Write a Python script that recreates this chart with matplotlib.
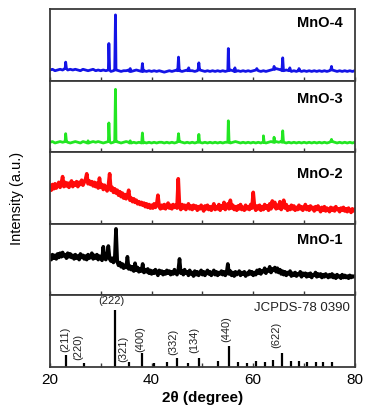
import numpy as np
import matplotlib
matplotlib.use('Agg')
import matplotlib.pyplot as plt
from matplotlib.ticker import MultipleLocator

plt.rcParams['font.family'] = ['Liberation Sans', 'DejaVu Sans']

# ---- data (intensities in % of panel height) ----
# MnO-4 and MnO-3: smooth background on a 0.5 deg grid + sharp reflections
grid_05 = np.arange(20.0, 80.01, 0.5)

mno4_base = [15, 16, 14, 15, 16, 15, 17, 15, 16, 15,
             16, 15, 14, 16, 15, 14, 15, 16, 14, 15,
             14, 15, 14, 15, 13, 14, 15, 14, 13, 14,
             14, 15, 13, 14, 15, 14, 13, 14, 13, 14,
             13, 14, 13, 14, 13, 12, 13, 14, 13, 14,
             15, 14, 13, 14, 15, 14, 14, 13, 14, 15,
             14, 13, 14, 13, 14, 13, 14, 13, 14, 13,
             14, 15, 14, 13, 14, 13, 14, 13, 14, 13,
             14, 15, 14, 13, 14, 13, 14, 15, 16, 17,
             16, 15, 14, 15, 14, 13, 14, 13, 14, 13,
             14, 13, 14, 13, 14, 13, 14, 13, 14, 13,
             14, 15, 14, 13, 14, 13, 14, 13, 14, 13,
             14]
mno4_peak_pos = [23.1, 31.6, 32.9, 35.8, 38.2, 45.3, 47.3, 49.3, 55.1, 56.4,
                 60.7, 64.1, 65.8, 67.2, 69.0, 75.4]
mno4_peak_h = [26, 52, 92, 17, 24, 33, 18, 25, 45, 18,
               17, 20, 32, 18, 17, 20]

mno3_base = [14, 15, 13, 14, 15, 14, 15, 14, 13, 14,
             15, 14, 13, 15, 14, 13, 14, 15, 14, 15,
             14, 13, 14, 15, 13, 14, 15, 14, 13, 14,
             15, 14, 13, 14, 13, 14, 13, 14, 13, 14,
             13, 14, 13, 14, 14, 13, 14, 13, 14, 13,
             14, 15, 14, 13, 14, 13, 14, 13, 14, 14,
             13, 14, 13, 14, 13, 14, 13, 14, 13, 14,
             14, 13, 14, 15, 14, 13, 14, 13, 14, 13,
             14, 13, 14, 13, 14, 13, 14, 15, 14, 15,
             14, 15, 14, 13, 14, 13, 14, 13, 14, 13,
             14, 13, 14, 13, 14, 13, 14, 13, 14, 13,
             14, 15, 14, 13, 14, 13, 14, 13, 14, 13,
             14]
mno3_peak_pos = [23.1, 27.5, 31.6, 32.9, 35.8, 38.2, 45.3, 49.3, 55.1, 62.0,
                 64.1, 65.8, 75.4]
mno3_peak_h = [26, 16, 41, 88, 16, 27, 26, 25, 44, 23,
               21, 30, 18]

# MnO-2 and MnO-1: noisy patterns on a 0.25 deg grid
grid_025 = np.arange(20.0, 80.001, 0.25)

mno2 = [52, 47, 55, 49, 56, 50, 54, 58, 51, 57, 66, 52, 58, 53, 57, 51,
        56, 60, 52, 57, 54, 59, 52, 58, 55, 61, 54, 58, 62, 70, 56, 60,
        55, 59, 53, 58, 52, 57, 50, 64, 51, 55, 48, 54, 50, 46, 53, 70,
        47, 51, 44, 49, 43, 47, 40, 45, 38, 43, 36, 41, 35, 39, 47, 33,
        36, 31, 35, 30, 33, 28, 31, 27, 30, 26, 29, 24, 28, 23, 27, 22,
        26, 22, 28, 23, 27, 40, 24, 21, 26, 22, 27, 21, 25, 29, 22, 26,
        21, 27, 23, 26, 22, 63, 24, 20, 27, 22, 26, 20, 24, 28, 21, 25,
        20, 26, 22, 25, 19, 24, 21, 26, 22, 18, 25, 21, 26, 20, 24, 19,
        23, 28, 20, 24, 21, 27, 19, 25, 22, 30, 20, 24, 28, 21, 33, 22,
        26, 20, 24, 19, 25, 21, 27, 20, 23, 19, 26, 21, 24, 20, 27, 22,
        44, 24, 19, 25, 21, 26, 19, 24, 20, 27, 22, 25, 19, 28, 21, 32,
        24, 30, 21, 26, 22, 31, 20, 25, 33, 22, 27, 19, 24, 20, 26, 21,
        25, 19, 23, 20, 26, 21, 24, 19, 22, 27, 20, 24, 19, 25, 21, 23,
        18, 24, 20, 25, 21, 17, 23, 19, 24, 18, 22, 20, 17, 23, 19, 22,
        18, 24, 20, 21, 17, 22, 19, 23, 18, 21, 17, 22, 19, 16, 21, 18,
        20]

mno1 = [55, 50, 57, 52, 56, 51, 58, 53, 59, 54, 60, 55, 57, 52, 59, 54,
        58, 53, 56, 51, 57, 52, 55, 50, 58, 53, 56, 51, 55, 50, 57, 52,
        54, 59, 51, 56, 52, 57, 50, 55, 53, 49, 68, 52, 50, 55, 69, 51,
        48, 52, 46, 50, 93, 47, 42, 46, 40, 44, 38, 42, 39, 54, 37, 41,
        36, 40, 34, 45, 35, 39, 33, 37, 34, 44, 32, 36, 33, 37, 31, 35,
        30, 34, 31, 36, 32, 28, 35, 31, 34, 29, 33, 30, 35, 31, 34, 29,
        33, 30, 36, 32, 29, 35, 51, 31, 34, 29, 36, 31, 33, 28, 35, 30,
        32, 27, 34, 29, 33, 28, 31, 35, 29, 33, 28, 32, 35, 30, 33, 28,
        31, 35, 29, 33, 28, 32, 30, 34, 29, 33, 28, 31, 44, 30, 34, 28,
        32, 27, 33, 29, 31, 34, 28, 32, 30, 33, 27, 31, 29, 34, 30, 33,
        28, 32, 29, 35, 31, 36, 30, 34, 33, 38, 31, 36, 34, 40, 32, 37,
        35, 39, 33, 38, 32, 36, 30, 34, 29, 33, 28, 32, 30, 34, 27, 31,
        28, 32, 27, 30, 29, 33, 26, 31, 28, 31, 26, 30, 27, 31, 25, 29,
        28, 32, 26, 30, 27, 30, 25, 29, 26, 30, 28, 25, 29, 26, 30, 25,
        28, 24, 29, 26, 27, 24, 29, 25, 28, 25, 27, 24, 28, 25, 27, 26,
        27]

# JCPDS-78 0390 reference pattern (relative intensity)
ref_pos = [23.1, 26.7, 32.9, 35.6, 38.2, 40.5, 43.0, 45.0, 47.2, 49.3,
           53.1, 55.2, 57.0, 58.8, 60.5, 62.3, 63.9, 65.7, 67.4, 69.0,
           70.6, 72.3, 73.7, 75.5]
ref_int = [21, 7, 100, 8, 24, 7, 8, 15, 7, 15,
           10, 37, 8, 7, 10, 8, 13, 24, 11, 10,
           8, 8, 9, 8]
hkl_labels = ['(211)', '(220)', '(321)', '(400)', '(332)', '(134)', '(440)', '(622)']
hkl_x = [23.0, 25.6, 34.4, 37.7, 44.3, 48.3, 54.6, 64.5]
hkl_y = [26, 12, 9, 26, 21, 24, 43, 33]


def add_spikes(gx, base, pos, h, hw=0.15):
    base = np.asarray(base, float)
    xs, ys = list(gx), list(base)
    for p, t in zip(pos, h):
        b = base[np.argmin(np.abs(gx - p))]
        xs += [p - hw, p, p + hw]
        ys += [b, t, b]
    order = np.argsort(xs, kind='stable')
    return np.asarray(xs)[order], np.asarray(ys)[order]


fig = plt.figure(figsize=(3.67, 4.17), dpi=100)
gs = fig.add_gridspec(5, 1, left=0.136, right=0.967, bottom=0.12, top=0.978, hspace=0)
axes = [fig.add_subplot(gs[i]) for i in range(5)]

x4, y4 = add_spikes(grid_05, mno4_base, mno4_peak_pos, mno4_peak_h)
x3, y3 = add_spikes(grid_05, mno3_base, mno3_peak_pos, mno3_peak_h)

series = [
    (x4, y4, '#1414e6', 'MnO-4', 0.81, 2.0),
    (x3, y3, '#22e622', 'MnO-3', 0.74, 2.0),
    (grid_025, mno2, '#ff0a0a', 'MnO-2', 0.70, 2.6),
    (grid_025, mno1, '#000000', 'MnO-1', 0.78, 2.6),
]

for ax, (x, y, c, name, ty, lw) in zip(axes[:4], series):
    ax.plot(x, y, color=c, lw=lw)
    ax.set_ylim(0, 100)
    ax.text(0.96, ty, name, transform=ax.transAxes, ha='right', va='center',
            fontsize=10.5, fontweight='bold')

axr = axes[4]
axr.vlines(ref_pos, 0, ref_int, color='black', lw=1.6)
axr.set_ylim(0, 125)
for lab, lx, ly in zip(hkl_labels, hkl_x, hkl_y):
    axr.text(lx, ly, lab, rotation=90, ha='center', va='bottom', fontsize=8, color='#222222')
axr.text(32.0, 115, '(222)', ha='center', va='center', fontsize=8, color='#222222')
axr.text(0.985, 0.83, 'JCPDS-78 0390', transform=axr.transAxes, ha='right', va='center',
         fontsize=9.5, color='#222222')

for i, ax in enumerate(axes):
    ax.set_xlim(20, 80)
    ax.set_yticks([])
    for s in ax.spines.values():
        s.set_color('#3a3a3a')
        s.set_linewidth(1.3)
    if i < 4:
        ax.xaxis.set_major_locator(MultipleLocator(10))
        ax.tick_params(axis='x', direction='in', length=3, width=1, labelbottom=False,
                       color='#3a3a3a')
    else:
        ax.xaxis.set_major_locator(MultipleLocator(20))
        ax.xaxis.set_minor_locator(MultipleLocator(10))
        ax.tick_params(axis='x', which='both', direction='in', length=3, width=1,
                       color='#3a3a3a', labelsize=11, pad=4)

axr.set_xlabel('2θ (degree)', fontsize=11, fontweight='bold', labelpad=3)
fig.text(0.045, 0.525, 'Intensity (a.u.)', rotation=90, ha='center', va='center', fontsize=10.5)

fig.savefig('out.png', dpi=100)
